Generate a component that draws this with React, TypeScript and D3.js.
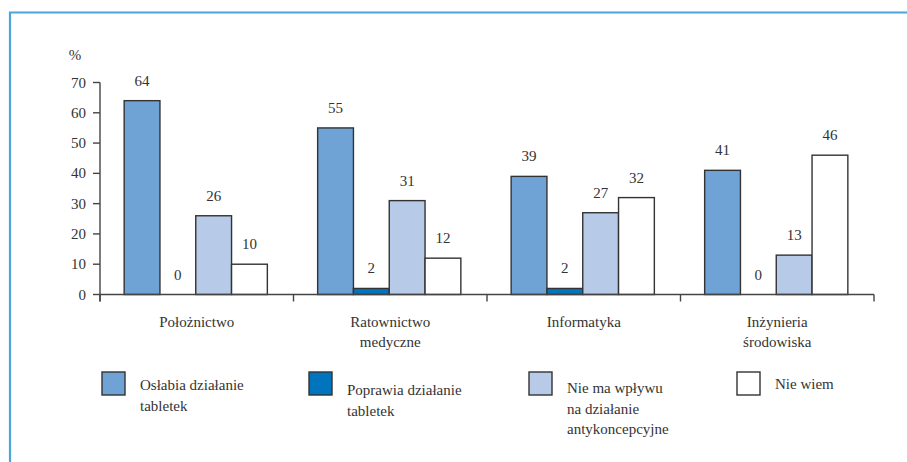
import React from "react";
import * as d3 from "d3";

const categories = [["Położnictwo"], ["Ratownictwo", "medyczne"], ["Informatyka"], ["Inżynieria", "środowiska"]];
const seriesNames = [
  ["Osłabia działanie", "tabletek"],
  ["Poprawia działanie", "tabletek"],
  ["Nie ma wpływu", "na działanie", "antykoncepcyjne"],
  ["Nie wiem"],
];
const oslabia = [64, 55, 39, 41];
const poprawia = [0, 2, 2, 0];
const nieMaWplywu = [26, 31, 27, 13];
const nieWiem = [10, 12, 32, 46];
const yTicks = [0, 10, 20, 30, 40, 50, 60, 70];

const series = [oslabia, poprawia, nieMaWplywu, nieWiem];
const colors = ["#6fa3d5", "#0074bd", "#b7cbe8", "#ffffff"];
const TXT = "#333";
const ts: React.CSSProperties = { fontFamily: "Liberation Serif", fontSize: 15 };

export default function App() {
  const W = 907, H = 462;
  const x0 = 100, x1 = 874, yBase = 294.5, yTop = 82.5;
  const x = d3.scaleBand<number>().domain(d3.range(categories.length)).range([x0, x1]);
  const y = d3.scaleLinear().domain([0, 70]).range([yBase, yTop]);
  const bw = 35.8;
  const groupW = bw * 4;

  const legendPos = [
    { sx: 102, tx: 140, ty: 390 },
    { sx: 309, tx: 347, ty: 395 },
    { sx: 529, tx: 567, ty: 393 },
    { sx: 737, tx: 775, ty: 389 },
  ];

  return (
    <svg width={W} height={H} style={{ position: "absolute", left: 0, top: 0 }}>
      <rect x={0} y={0} width={W} height={H} fill="#fff" />
      <path d={`M10,${H} V12.5 H${W}`} fill="none" stroke="#4aa6d8" strokeWidth={2.2} />
      {series.map((vals, si) =>
        vals.map((v, ci) => {
          const bx = (x(ci) as number) + (x.bandwidth() - groupW) / 2 - 1 + si * bw;
          const top = y(v);
          return (
            <g key={`${si}-${ci}`}>
              {v > 0 && (
                <rect x={bx} y={top} width={bw} height={yBase - top} fill={colors[si]} stroke="#333" strokeWidth={1.4} />
              )}
              <text x={bx + bw / 2} y={top - 15} textAnchor="middle" style={ts} fill={TXT}>
                {v}
              </text>
            </g>
          );
        })
      )}
      <line x1={x0} x2={x0} y1={yTop} y2={yBase + 7} stroke="#444" strokeWidth={1.4} />
      {yTicks.map((t) => (
        <g key={t}>
          <line x1={x0 - 7} x2={x0} y1={y(t)} y2={y(t)} stroke="#444" strokeWidth={1.4} />
          <text x={86} y={y(t) + 5} textAnchor="end" style={ts} fill={TXT}>
            {t}
          </text>
        </g>
      ))}
      <text x={75} y={60} textAnchor="middle" style={ts} fill={TXT}>%</text>
      <line x1={x0} x2={x1} y1={yBase} y2={yBase} stroke="#444" strokeWidth={1.4} />
      {d3.range(categories.length + 1).map((i) => {
        const tx = x0 + i * x.bandwidth();
        return <line key={i} x1={tx} x2={tx} y1={yBase} y2={yBase + 7} stroke="#444" strokeWidth={1.4} />;
      })}
      {categories.map((lines, ci) => (
        <text key={ci} x={(x(ci) as number) + x.bandwidth() / 2} y={327} textAnchor="middle" style={ts} fill={TXT}>
          {lines.map((l, li) => (
            <tspan key={li} x={(x(ci) as number) + x.bandwidth() / 2} dy={li === 0 ? 0 : 20}>
              {l}
            </tspan>
          ))}
        </text>
      ))}
      {seriesNames.map((lines, si) => {
        const p = legendPos[si];
        return (
          <g key={si}>
            <rect x={p.sx} y={372} width={23} height={23} fill={colors[si]} stroke="#333" strokeWidth={1.4} />
            <text x={p.tx} y={p.ty} style={ts} fill={TXT}>
              {lines.map((l, li) => (
                <tspan key={li} x={p.tx} dy={li === 0 ? 0 : 20.5}>
                  {l}
                </tspan>
              ))}
            </text>
          </g>
        );
      })}
    </svg>
  );
}
